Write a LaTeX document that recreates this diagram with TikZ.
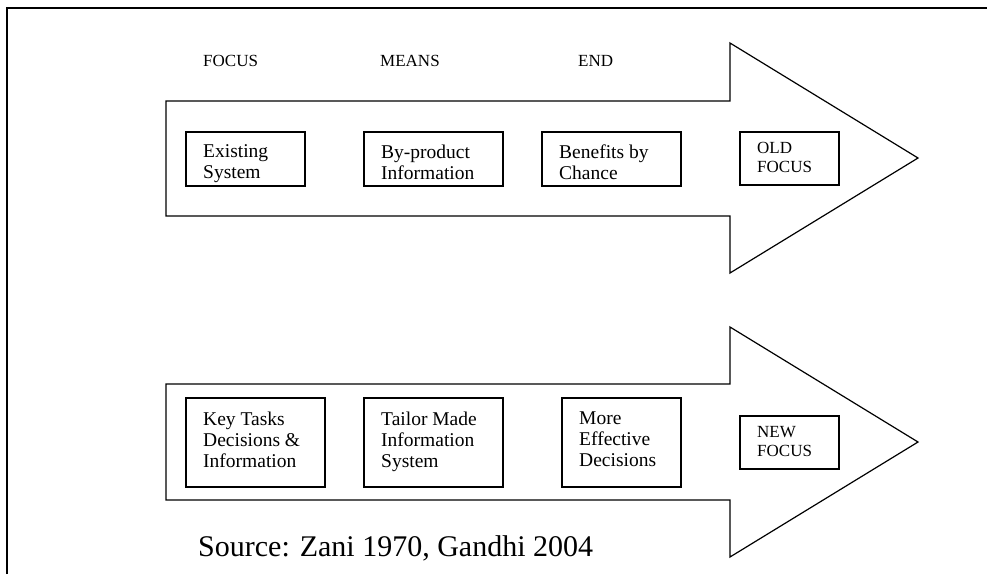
\documentclass[tikz,border=0pt]{standalone}
\usepackage{fontspec}
\setmainfont{Liberation Serif}
\newcommand\boxfont{\fontsize{19.5}{21}\selectfont}
\newcommand\capfont{\fontsize{17}{19}\selectfont}
\newcommand\srcfont{\fontsize{30}{34}\selectfont}
\tikzset{
	framed/.style={line width=1.6pt},
	bigarrow/.style={line width=1.2pt, line join=miter},
	box/.style={draw, line width=1.5pt, anchor=north west, outer sep=0pt, inner sep=0pt, minimum height=54pt},
	boxtext/.style={anchor=north west, align=left, inner xsep=17pt, inner ysep=12.7pt, font=\boxfont},
	captext/.style={anchor=north west, align=left, inner xsep=17pt, inner ysep=10.5pt, font=\capfont},
	head/.style={anchor=base west, font=\capfont, inner sep=0pt}
}
\begin{document}
\begin{tikzpicture}[x=1pt, y=-1pt]
	\useasboundingbox (0,0) rectangle (987,574);
	\draw[framed] (7,574) -- (7,8) -- (987,8);
	% old focus
	\node[head] (focus) at (203,66) {FOCUS};
	\node[head] (means) at (380,66) {MEANS};
	\node[head] (end) at (578,66) {END};
	\draw[bigarrow] (166,101) -- (730,101) -- (730,43) -- (918,158) -- (730,273) -- (730,216) -- (166,216) -- cycle;
	\node[box, minimum width=119pt, label={[boxtext]north west:Existing\\System}] (exist) at (186,132) {};
	\node[box, minimum width=139pt, label={[boxtext]north west:By-product\\Information}] (byprod) at (364,132) {};
	\node[box, minimum width=139pt, label={[boxtext]north west:Benefits by\\Chance}] (chance) at (542,132) {};
	\node[box, minimum width=99pt, minimum height=53pt, label={[captext]north west:OLD\\FOCUS}] (oldf) at (740,132) {};
	% new focus
	\draw[bigarrow] (166,384) -- (730,384) -- (730,327) -- (918,442) -- (730,557) -- (730,500) -- (166,500) -- cycle;
	\node[box, minimum width=139pt, minimum height=89pt, label={[boxtext, inner ysep=13.7pt]north west:Key Tasks\\Decisions \&\\Information}] (tasks) at (186,398) {};
	\node[box, minimum width=139pt, minimum height=89pt, label={[boxtext, inner ysep=13.7pt]north west:Tailor Made\\Information\\System}] (tailor) at (364,398) {};
	\node[box, minimum width=119pt, minimum height=89pt, label={[boxtext, inner ysep=13.7pt]north west:More\\Effective\\Decisions}] (effect) at (562,398) {};
	\node[box, minimum width=99pt, minimum height=53pt, label={[captext]north west:NEW\\FOCUS}] (newf) at (740,416) {};
	\node[anchor=base west, inner sep=0pt, font=\srcfont] (source) at (198,556) {Source: Zani 1970, Gandhi 2004};
\end{tikzpicture}
\end{document}
